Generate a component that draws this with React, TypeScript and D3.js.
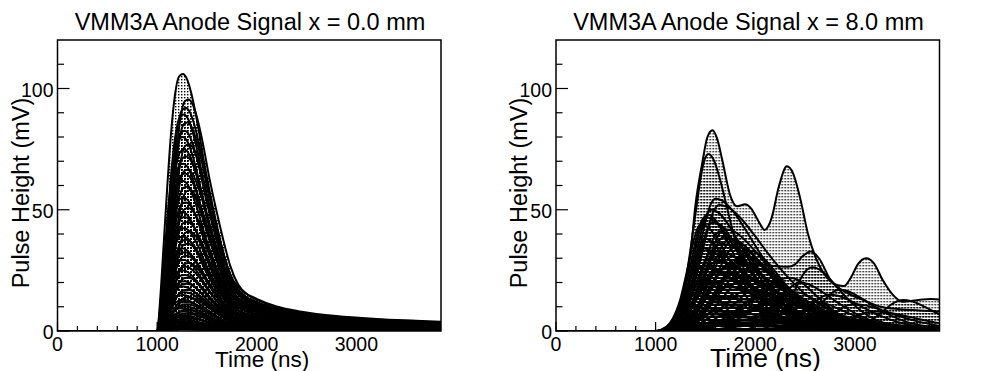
import * as d3 from 'd3';

type Pt = [number, number];

const W = 997;
const H = 371;
const PANEL_W = 498.5;
const X_MAX = 3850;
const Y_MAX = 120;
const FONT = "'Liberation Sans', Arial, Helvetica, sans-serif";

const panelTitles = ['VMM3A Anode Signal x = 0.0 mm', 'VMM3A Anode Signal x = 8.0 mm'];
const xTickValues = [0, 1000, 2000, 3000];
const yTickValues = [0, 50, 100];

// x = 0.0 mm : pulse shape (ns after start, fraction of peak)
const leftShapeT = [0, 30, 60, 100, 140, 180, 220, 258, 300, 340, 400, 470, 540, 600, 680, 760, 860, 1000, 1200, 1450, 1800, 2200, 2600, 2850];
const leftShapeV = [0, 0.12, 0.3, 0.55, 0.77, 0.92, 0.99, 1.0, 0.98, 0.93, 0.82, 0.66, 0.52, 0.41, 0.28, 0.2, 0.155, 0.125, 0.095, 0.075, 0.058, 0.047, 0.04, 0.036];
const leftAmps = [
  106, 95.5, 92, 89.3, 86, 82.6, 80, 77, 74.8, 72,
  69, 66.5, 65, 62, 59.5, 58, 55, 53, 50.7, 49,
  47, 45, 42.4, 41, 39, 37.6, 36, 34, 32.5, 31,
  29.3, 28, 26.5, 25, 23.1, 22, 20.5, 19.5, 18.3, 17,
  16, 14.8, 13.9, 12.8, 12, 11, 10.2, 9.4, 8.7, 8,
  7.2, 6.5, 5.9, 5.3, 4.7, 4.1, 3.6, 3.2, 2.7, 2.3,
  1.9, 1.5, 1.2, 0.9, 0.6,
];
const leftStart = [
  1000, 1055, 1030, 1010, 1045, 1020, 1000, 1060, 1015, 1035,
  1005, 1050, 1025, 1000, 1040, 1070, 1010, 1030, 1055, 1000,
  1020, 1045, 1015, 1065, 1005, 1035, 1050, 1000, 1025, 1040,
  1010, 1060, 1030, 1000, 1020, 1050, 1015, 1035, 1005, 1045,
  1025, 1000, 1060, 1010, 1030, 1040, 1020, 1000, 1050, 1015,
  1035, 1005, 1025, 1045, 1010, 1000, 1030, 1020, 1040, 1000,
  1015, 1025, 1005, 1035, 1010,
];

// x = 8.0 mm : single-bump pulse shape (ns from peak, fraction of peak)
const rightShapeT = [-560, -480, -400, -320, -260, -200, -150, -100, -50, 0, 50, 100, 160, 220, 280, 350, 430, 520, 620, 740, 900, 1100, 1400, 1800];
const rightShapeV = [0, 0.02, 0.07, 0.18, 0.31, 0.5, 0.67, 0.84, 0.96, 1, 0.97, 0.89, 0.76, 0.62, 0.49, 0.36, 0.24, 0.15, 0.095, 0.06, 0.035, 0.02, 0.01, 0];
const rightPeaks = [
  1530, 1604, 1640, 1560, 1500, 1460, 1700, 1750, 1660, 1820,
  1580, 1900, 1620, 1760, 1480, 2000, 1680, 1850, 1420, 1560,
  2100, 1720, 1950, 1380, 1640, 2250, 1500, 1800, 1350, 2050,
  1600, 1450, 1900, 1300, 1700, 2300, 1550, 1400, 2573, 2750,
  3000, 3490, 2450, 3200, 2850, 1520, 1580, 1650, 1700, 1780,
  1480, 1620, 1550, 1860, 1730, 1600, 1680, 2200, 2400, 2600,
  2350, 1950, 1500,
];
const rightAmps = [
  73, 54.5, 52, 50, 47, 44, 42, 38, 36, 35,
  33, 31, 29, 28, 27, 26, 24, 23, 22, 20,
  19, 18, 17, 15, 14, 13, 12, 11, 10, 9,
  8, 7, 6, 5, 4.5, 4, 3, 2.5, 26.3, 15,
  11, 12.8, 20, 8, 17, 48, 45, 41, 39, 37,
  34, 32, 30, 29, 27, 25, 21, 18, 16, 12,
  22, 33, 38,
];
const rightRise = [
  0.85, 1.0, 1.05, 0.95, 0.85, 0.8, 1.15, 1.2, 1.1, 1.35,
  1.0, 1.5, 1.05, 1.25, 0.85, 1.7, 1.1, 1.4, 0.7, 0.95,
  1.8, 1.2, 1.6, 0.62, 1.05, 2.1, 0.85, 1.3, 0.55, 1.8,
  1.0, 0.75, 1.5, 0.45, 1.2, 2.2, 0.9, 0.65, 1.1, 1.3,
  1.4, 1.3, 1.2, 1.5, 1.2, 0.85, 0.95, 1.05, 1.15, 1.3,
  0.8, 1.0, 0.9, 1.45, 1.2, 1.0, 1.1, 1.9, 2.2, 2.4,
  2.1, 1.6, 0.85,
];
const rightFall = [
  1.0, 1.9, 2.2, 1.6, 1.7, 1.4, 2.0, 1.8, 2.4, 1.6,
  2.6, 1.7, 2.0, 2.3, 2.0, 1.5, 2.8, 2.0, 1.8, 2.5,
  1.8, 3.0, 2.2, 2.0, 3.2, 1.6, 2.8, 2.6, 2.4, 2.5,
  3.4, 3.0, 3.0, 3.2, 3.5, 2.4, 3.8, 4.0, 1.3, 1.6,
  1.8, 1.4, 1.6, 2.0, 1.5, 1.3, 1.5, 1.4, 1.6, 1.3,
  1.8, 1.5, 1.9, 1.4, 1.7, 2.2, 2.6, 1.5, 1.4, 1.5,
  1.3, 1.5, 1.2,
];

// multi-peak pulses at x = 8.0 mm, read point by point
const multiA_T = [0, 1000, 1100, 1200, 1280, 1350, 1400, 1467, 1520, 1571, 1620, 1668, 1752, 1818, 1902, 1960, 2030, 2095, 2160, 2240, 2318, 2380, 2450, 2530, 2620, 2720, 2820, 2894, 2960, 3030, 3112, 3190, 3280, 3380, 3480, 3580, 3680, 3765, 3850];
const multiA_V = [0, 0, 1.5, 6, 15, 32, 52, 69, 80, 82.8, 79, 70.7, 55.5, 51.4, 52.3, 50.5, 45.5, 41.7, 46, 60, 67.9, 65, 55, 40, 29, 22, 19, 18.6, 22, 27.5, 30, 28, 21, 15, 12.1, 12.5, 13, 13.2, 13];
const multiB_T = [0, 1000, 1150, 1300, 1450, 1600, 1800, 2000, 2150, 2254, 2330, 2400, 2480, 2556, 2640, 2757, 2923, 3100, 3259, 3450, 3650, 3850];
const multiB_V = [0, 0, 2, 8, 17, 24, 27, 27.5, 27, 26.6, 26.5, 27.5, 31, 32.8, 30, 21, 15.7, 12.5, 10, 9, 8.5, 8];

function scaledShape(shapeT: number[], shapeV: number[], at: number, amp: number, rise: number, fall: number): Pt[] {
  const pts: Pt[] = [[0, 0]];
  shapeT.forEach((o, i) => pts.push([at + o * (o < 0 ? rise : fall), amp * shapeV[i]]));
  return pts;
}

const leftCurves: Pt[][] = leftAmps.map((a, i) => scaledShape(leftShapeT, leftShapeV, leftStart[i], a, 1, 1));
const rightCurves: Pt[][] = [
  multiA_T.map((t, i) => [t, multiA_V[i]] as Pt),
  ...rightAmps.map((a, i) => scaledShape(rightShapeT, rightShapeV, rightPeaks[i], a, rightRise[i], rightFall[i])),
  multiB_T.map((t, i) => [t, multiB_V[i]] as Pt),
];

const FRAME = { left: 57.5, right: 441, top: 40, bottom: 331 };

function Panel({ idx, curves, xTitleX, xTitleSize }: { idx: number; curves: Pt[][]; xTitleX: number; xTitleSize: number }) {
  const x = d3.scaleLinear().domain([0, X_MAX]).range([FRAME.left, FRAME.right]);
  const y = d3.scaleLinear().domain([0, Y_MAX]).range([FRAME.bottom, FRAME.top]);
  const area = d3.area<Pt>().x(d => x(d[0])).y0(y(0)).y1(d => y(d[1])).curve(d3.curveMonotoneX);
  const line = d3.line<Pt>().x(d => x(d[0])).y(d => y(d[1])).curve(d3.curveMonotoneX);
  const clipId = `plot-clip-${idx}`;
  const xMinor = d3.range(0, X_MAX, 200).filter(v => v % 1000 !== 0);
  const yMinor = d3.range(10, Y_MAX, 10).filter(v => v % 50 !== 0);

  return (
    <g transform={`translate(${idx * PANEL_W},0)`}>
      <clipPath id={clipId}>
        <rect x={FRAME.left} y={FRAME.top} width={FRAME.right - FRAME.left} height={FRAME.bottom - FRAME.top} />
      </clipPath>
      <g clipPath={`url(#${clipId})`}>
        {curves.map((c, i) => (
          <g key={i}>
            <path d={area(c) ?? ''} fill="url(#dots)" stroke="none" />
            <path d={line(c) ?? ''} fill="none" stroke="#000" strokeWidth={2} strokeLinejoin="round" />
          </g>
        ))}
      </g>
      <rect x={FRAME.left} y={FRAME.top} width={FRAME.right - FRAME.left} height={FRAME.bottom - FRAME.top}
        fill="none" stroke="#000" strokeWidth={1.5} />
      {xMinor.map(v => (
        <line key={`xm${v}`} x1={x(v)} x2={x(v)} y1={FRAME.bottom} y2={FRAME.bottom - 5} stroke="#000" strokeWidth={1.2} />
      ))}
      {xTickValues.map(v => (
        <line key={`xM${v}`} x1={x(v)} x2={x(v)} y1={FRAME.bottom} y2={FRAME.bottom - 9} stroke="#000" strokeWidth={1.2} />
      ))}
      {yMinor.map(v => (
        <line key={`ym${v}`} x1={FRAME.left} x2={FRAME.left + 6.5} y1={y(v)} y2={y(v)} stroke="#000" strokeWidth={1.2} />
      ))}
      {yTickValues.map(v => (
        <line key={`yM${v}`} x1={FRAME.left} x2={FRAME.left + 12} y1={y(v)} y2={y(v)} stroke="#000" strokeWidth={1.2} />
      ))}
      <g fontFamily={FONT} fill="#000">
        {xTickValues.map(v => (
          <text key={`xl${v}`} x={x(v)} y={351} fontSize={19.5} textAnchor="middle">{v}</text>
        ))}
        {yTickValues.map(v => (
          <text key={`yl${v}`} x={53.5} y={y(v) + 8} fontSize={19.5} textAnchor="end">{v}</text>
        ))}
        <text x={250} y={30} fontSize={23.5} textAnchor="middle">{panelTitles[idx]}</text>
        <text transform="translate(28.5,193) rotate(-90)" fontSize={23.5} textAnchor="middle">Pulse Height (mV)</text>
        <text x={xTitleX} y={366.5} fontSize={xTitleSize}>Time (ns)</text>
      </g>
    </g>
  );
}

export default function App() {
  return (
    <div style={{ position: 'absolute', left: 0, top: 0, width: W, height: H, background: '#fff' }}>
      <svg width={W} height={H} style={{ display: 'block' }}>
        <defs>
          <pattern id="dots" patternUnits="userSpaceOnUse" width={3} height={3}>
            <rect x={1} y={1} width={1.4} height={1.4} fill="#000" />
          </pattern>
        </defs>
        <rect width={W} height={H} fill="#fff" />
        <Panel idx={0} curves={leftCurves} xTitleX={215} xTitleSize={22.5} />
        <Panel idx={1} curves={rightCurves} xTitleX={211.5} xTitleSize={26.5} />
      </svg>
    </div>
  );
}
